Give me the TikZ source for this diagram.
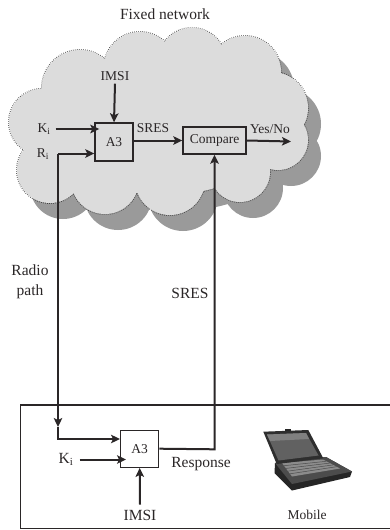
\documentclass[tikz,border=0pt]{standalone}
\usepackage{fontspec}
\setmainfont{Liberation Serif}
\usetikzlibrary{arrows.meta,calc}
\definecolor{ink}{HTML}{2A2627}
\definecolor{cloudfill}{HTML}{DCDCDC}
\definecolor{cloudshade}{HTML}{9A9A9A}
\tikzset{
  lbl/.style={inner sep=0pt, text=ink, font=\fontsize{13.5}{16}\selectfont},
  biglbl/.style={inner sep=0pt, text=ink, font=\fontsize{15.5}{20}\selectfont},
  blk/.style={draw=ink, line width=1.4pt, fill=#1, inner sep=0pt, text=ink,
              font=\fontsize{13.5}{16}\selectfont},
  arr/.style={draw=ink, line width=2pt, -{Stealth[length=9pt,width=8.5pt,inset=2pt]}},
  cloudedge/.style={draw=black!75, line width=2pt, dash pattern=on 0.6pt off 1.4pt},
}
% circles making up the cloud
\newcommand{\cloudparts}[1]{%
  #1 (42,122) circle (33)
  #1 (50,170) circle (33)
  #1 (80,88) circle (38)
  #1 (140,68) circle (36)
  #1 (192,62) circle (34)
  #1 (245,72) circle (36)
  #1 (272,108) circle (36)
  #1 (278,140) circle (30)
  #1 (240,172) circle (30)
  #1 (170,180) circle (35)
  #1 (105,180) circle (34)
  #1 (165,130) ellipse (110 and 65)
}
\begin{document}
\begin{tikzpicture}[x=1pt,y=-1pt]
\useasboundingbox (0,0) rectangle (389,530);

% ---- fixed network cloud: shadow, dotted rim, body ----
\begin{scope}[shift={(13,16)}]
  \fill[cloudshade] \cloudparts{};
\end{scope}
\draw[cloudedge] \cloudparts{};
\fill[cloudfill] \cloudparts{};

\node[biglbl] (fixed) at (165,14) {Fixed network};

% ---- network side ----
\node[blk=cloudfill, minimum width=38pt, minimum height=38pt] (a3net) at (114,142) {A3};
\node[blk=cloudfill, minimum width=63pt, minimum height=27pt] (cmp) at (214.5,140.5) {Compare};
\node[lbl] (imsinet) at (115,76) {IMSI};
\node[lbl] (kinet) at (44,129) {K$_{\mathrm{i}}$};
\node[lbl] (rinet) at (43,154) {R$_{\mathrm{i}}$};
\node[lbl] (sresnet) at (153,128) {SRES};
\node[lbl] (yesno) at (270,129) {Yes/No};
\coordinate (yesend) at (291,141.5);

\draw[arr] ([yshift=-3pt]imsinet.south) -- (a3net.north);
\draw[arr] ([xshift=5pt]kinet.east) -- ([xshift=5pt]kinet.east -| a3net.west);
\draw[arr] (a3net.east |- cmp.west) -- (cmp.west);
\draw[arr] (cmp.east) -- (yesend);

% ---- radio path ----
\coordinate (rstart) at (58,153.5);
\coordinate (rtip) at (58,427);
\coordinate (rlow) at (58,439);
\coordinate (sturn) at (214.5,449.3);
\draw[arr] (rstart) -- (rstart -| a3net.west);

\node[biglbl, align=center] (radio) at (30,282) {Radio\\path};
\node[biglbl] (sresmid) at (190,293) {SRES};

% ---- mobile side ----
\coordinate (boxtr) at (392,405);
\coordinate (boxtl) at (20.7,405);
\coordinate (boxbl) at (20.7,528.3);
\coordinate (boxbr) at (392,528.3);
\draw[draw=ink, line width=1.4pt] (boxtr) -- (boxtl) -- (boxbl) -- (boxbr);

\node[blk=white, minimum width=38pt, minimum height=37pt] (a3mob) at (139.7,448.7) {A3};
\node[biglbl] (kimob) at (66,459.5) {K$_{\mathrm{i}}$};
\node[biglbl] (imsimob) at (140,515) {IMSI};
\node[biglbl] (resp) at (201,464) {Response};
\node[lbl] (mobile) at (307,515) {Mobile};

\draw[arr] (rstart) -- (rtip);
\draw[arr] (rtip) -- (rlow) -- (rlow -| a3mob.west);
\draw[arr] ([xshift=6pt]kimob.east) -- ([xshift=6pt]kimob.east -| a3mob.west);
\draw[arr] ([yshift=5pt]imsimob.north) -- (a3mob.south);
\draw[arr] (a3mob.east) -- (sturn) -- (cmp.south);

% ---- laptop ----
\begin{scope}[line join=round]
  % base
  \fill[black!85] (275,463) -- (326,457) -- (352,471.5) -- (350,477) -- (292,490.5) -- (274.5,473) -- cycle;
  \fill[black!70] (275,463) -- (326,457) -- (352,471.5) -- (292,484) -- cycle;
  % keyboard
  \fill[black!45] (282,463) -- (323,459.5) -- (340,468.5) -- (292,476.5) -- cycle;
  \foreach \t in {0.2,0.4,0.6,0.8}
    \draw[black!70, line width=0.5pt] ($(282,463)!\t!(292,476.5)$) -- ($(323,459.5)!\t!(340,468.5)$);
  % lid
  \fill[black!82] (263.3,431.7) -- (308.3,430) -- (323.3,458.3) -- (276.7,464) -- cycle;
  \fill[black!62] (267,434.5) -- (306,433) -- (318.5,455.5) -- (278.5,460.5) -- cycle;
  \fill[black!50] (267,434.5) -- (306,433) -- (309,439) -- (270,441) -- cycle;
  \fill[black!85] (285,428.5) rectangle (291,431);
\end{scope}
\end{tikzpicture}
\end{document}
